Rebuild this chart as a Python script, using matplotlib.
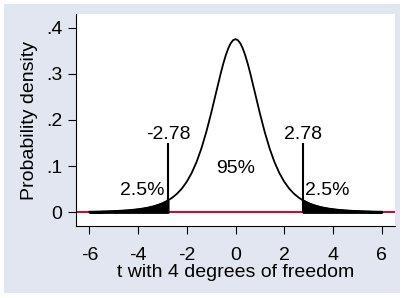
import matplotlib
matplotlib.use("Agg")
import matplotlib.pyplot as plt
from matplotlib.patches import Rectangle

plt.rcParams['font.family'] = ['Liberation Sans', 'DejaVu Sans']

# t distribution (4 df) density
t_values = [-6.0, -5.8, -5.6, -5.4, -5.2, -5.0, -4.8, -4.6, -4.4, -4.2, -4.0,
            -3.8, -3.6, -3.4, -3.2, -3.0, -2.8, -2.776, -2.6, -2.4, -2.2, -2.0,
            -1.8, -1.6, -1.4, -1.2, -1.0, -0.8, -0.6, -0.5, -0.4, -0.3, -0.2,
            -0.1, 0.0, 0.1, 0.2, 0.3, 0.4, 0.5, 0.6, 0.8, 1.0, 1.2, 1.4, 1.6,
            1.8, 2.0, 2.2, 2.4, 2.6, 2.776, 2.8, 3.0, 3.2, 3.4, 3.6, 3.8, 4.0,
            4.2, 4.4, 4.6, 4.8, 5.0, 5.2, 5.4, 5.6, 5.8, 6.0]
density = [0.0012, 0.0014, 0.0016, 0.0019, 0.0022, 0.0027, 0.0032, 0.0038,
           0.0045, 0.0055, 0.0067, 0.0082, 0.0101, 0.0126, 0.0157, 0.0197,
           0.0249, 0.0256, 0.0316, 0.0403, 0.0516, 0.0663, 0.0851, 0.1089,
           0.1384, 0.1739, 0.2147, 0.2587, 0.3023, 0.3223, 0.3400, 0.3547,
           0.3658, 0.3727, 0.3750, 0.3727, 0.3658, 0.3547, 0.3400, 0.3223,
           0.3023, 0.2587, 0.2147, 0.1739, 0.1384, 0.1089, 0.0851, 0.0663,
           0.0516, 0.0403, 0.0316, 0.0256, 0.0249, 0.0197, 0.0157, 0.0126,
           0.0101, 0.0082, 0.0067, 0.0055, 0.0045, 0.0038, 0.0032, 0.0027,
           0.0022, 0.0019, 0.0016, 0.0014, 0.0012]
critical = 2.776
crit_line_top = 0.15
crit_labels = ["-2.78", "2.78"]
center_label = "95%"
tail_label = "2.5%"
x_ticks = [-6, -4, -2, 0, 2, 4, 6]
x_tick_labels = ["-6", "-4", "-2", "0", "2", "4", "6"]
y_ticks = [0, 0.1, 0.2, 0.3, 0.4]
y_tick_labels = ["0", ".1", ".2", ".3", ".4"]

W, H = 409, 298
fig = plt.figure(figsize=(W / 100, H / 100), dpi=100)
fig.patch.set_facecolor('white')
fig.patches.append(Rectangle((4 / W, 5 / H), 396 / W, 289 / H,
                             transform=fig.transFigure, facecolor='#e1e6f0',
                             edgecolor='none', zorder=-10))

ax = fig.add_axes([76 / W, 72 / H, 319 / W, 212 / H])
ax.set_facecolor('white')

red = '#c0103a'
ax.axhline(0, color=red, lw=1.5, zorder=1)

ax.plot(t_values, density, color='black', lw=1.3, zorder=3)

left_x = [x for x in t_values if x <= -critical]
left_y = [d for x, d in zip(t_values, density) if x <= -critical]
right_x = [x for x in t_values if x >= critical]
right_y = [d for x, d in zip(t_values, density) if x >= critical]
for xs, ys in ((left_x, left_y), (right_x, right_y)):
    ax.fill_between(xs, 0, ys, facecolor='black', edgecolor='black',
                    lw=1.6, zorder=2)

ax.vlines([-critical, critical], 0, crit_line_top, color='black', lw=1.5,
          zorder=3)

fs = 14
ax.text(-critical, crit_line_top + 0.001, crit_labels[0], ha='center',
        va='bottom', fontsize=fs)
ax.text(critical, crit_line_top + 0.001, crit_labels[1], ha='center',
        va='bottom', fontsize=fs)
ax.text(0, 0.095, center_label, ha='center', va='center', fontsize=fs)
ax.text(-2.9, 0.048, tail_label, ha='right', va='center', fontsize=fs)
ax.text(2.85, 0.048, tail_label, ha='left', va='center', fontsize=fs)

ax.set_xlim(-6.55, 6.55)
ax.set_ylim(-0.0297, 0.4295)
ax.set_xticks(x_ticks)
ax.set_xticklabels(x_tick_labels)
ax.set_yticks(y_ticks)
ax.set_yticklabels(y_tick_labels)
ax.tick_params(axis='both', direction='out', length=5.8, width=0.8,
               labelsize=fs, color='black')
ax.tick_params(axis='x', pad=9)
ax.tick_params(axis='y', pad=4)

for s in ('top', 'right'):
    ax.spines[s].set_visible(False)
for s in ('left', 'bottom'):
    ax.spines[s].set_linewidth(0.8)

ax.set_xlabel("t with 4 degrees of freedom", fontsize=fs, labelpad=0)
ax.set_ylabel("Probability density", fontsize=fs, labelpad=6)

fig.savefig("out.png", dpi=100, facecolor='white')
